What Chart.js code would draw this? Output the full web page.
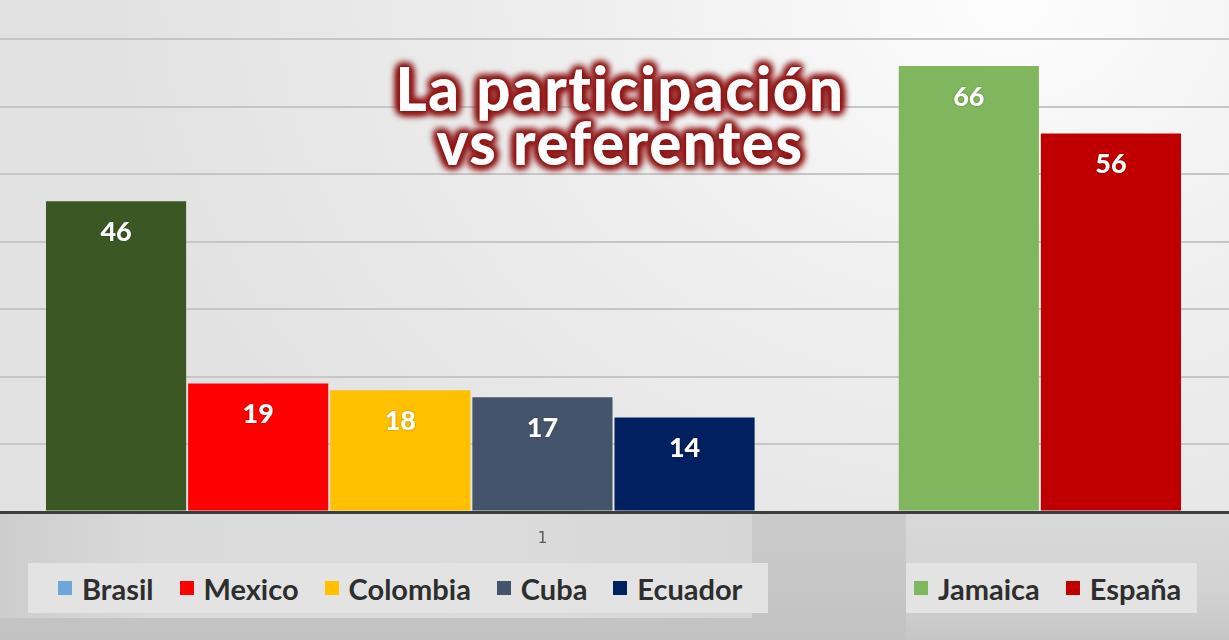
<!DOCTYPE html>
<html>
<head>
<meta charset="utf-8">
<script src="https://cdn.jsdelivr.net/npm/chart.js@4.4.1/dist/chart.umd.min.js"></script>
<style>
  html, body { margin: 0; padding: 0; }
  body { width: 1229px; height: 640px; overflow: hidden; position: relative;
    background: radial-gradient(ellipse 900px 700px at 82% 0%, #fdfdfd 0%, #efefef 45%, #e2e2e2 100%); }
  .band { position: absolute; }
  #wrap { position: absolute; left: 0; top: 0; width: 1229px; height: 640px; }
  #title { position: absolute; left: 0; top: 61px; width: 1240px; text-align: center;
    font-family: Lato, "Open Sans", sans-serif; font-weight: 900; font-size: 60px; line-height: 54px;
    color: #ffffff; letter-spacing: 1.5px;
    text-shadow: 0 0 2px #8a1616, 0 0 3px #8a1616, 0 0 5px #8d1818, 0 0 7px #921b1b, 0 0 9px #9a2020, 0 0 11px #a02525, 2px 2px 9px #861414, -2px -2px 9px #861414, 2px -2px 9px #861414, -2px 2px 9px #861414; }
  .legend { position: absolute; display: flex; align-items: center; background: #e3e3e3;
    font-family: Lato, "Open Sans", sans-serif; font-weight: 700; font-size: 29px; color: #2e2e2e; }
  .legend .item { display: flex; align-items: center; }
  .legend .sw { width: 14px; height: 14px; margin-right: 10px; }
</style>
</head>
<body>
<div class="band" style="left:0;top:514px;width:1229px;height:126px;background:linear-gradient(to bottom,#cbcbcb,#c2c2c2);"></div>
<div class="band" style="left:0;top:514px;width:752px;height:104px;background:linear-gradient(to right,#cdcdcd 0%,#dadada 20%,#dcdcdc 60%,#d6d6d6 100%);"></div>
<div class="band" style="left:906px;top:514px;width:323px;height:126px;background:linear-gradient(to bottom,#d9d9d9 0%,#d2d2d2 60%,#c6c6c6 100%);"></div>
<div id="wrap"><canvas id="c" width="1229" height="640"></canvas></div>
<div id="title">La participación<br>vs referentes</div>
<div class="legend" id="legLeft" style="left:28px;top:563px;width:740px;height:50px;padding-left:30px;box-sizing:border-box;gap:26px;"></div>
<div class="legend" id="legRight" style="left:906px;top:563px;width:291px;height:50px;padding-left:8px;box-sizing:border-box;gap:26px;"></div>
<script>
// ---- data ----
const categories = ['Brasil', 'Mexico', 'Colombia', 'Cuba', 'Ecuador', '', 'Jamaica', 'España'];
const values = [46, 19, 18, 17, 14, null, 66, 56];
const barColors = ['#3b5723', '#ff0000', '#ffc000', '#44546a', '#002060', 'rgba(0,0,0,0)', '#80b65d', '#c00000'];
const xTickLabels = ['', '', '', '1', '', '', '', ''];
const yTicks = [0, 10, 20, 30, 40, 50, 60, 70];
const legendLeftNames = ['Brasil', 'Mexico', 'Colombia', 'Cuba', 'Ecuador'];
const legendLeftColors = ['#6fa6d8', '#ff0000', '#ffc000', '#44546a', '#002060'];
const legendRightNames = ['Jamaica', 'España'];
const legendRightColors = ['#80b65d', '#c00000'];
// --------------

function buildLegend(id, names, colors) {
  const el = document.getElementById(id);
  names.forEach((n, i) => {
    const it = document.createElement('div'); it.className = 'item';
    const sw = document.createElement('span'); sw.className = 'sw'; sw.style.background = colors[i];
    const tx = document.createElement('span'); tx.textContent = n;
    it.appendChild(sw); it.appendChild(tx); el.appendChild(it);
  });
}
buildLegend('legLeft', legendLeftNames, legendLeftColors);
buildLegend('legRight', legendRightNames, legendRightColors);

const gridColor = (ctx) => (ctx.tick && ctx.tick.value === 0) ? '#3d3d3d' : '#c6c6c6';
const gridWidth = (ctx) => (ctx.tick && ctx.tick.value === 0) ? 3 : 2;

const valueLabels = {
  id: 'valueLabels',
  afterDatasetsDraw(chart) {
    const ctx = chart.ctx;
    const meta = chart.getDatasetMeta(0);
    ctx.save();
    ctx.font = '900 27px Lato, "Open Sans", sans-serif';
    ctx.fillStyle = '#ffffff';
    ctx.textAlign = 'center';
    ctx.textBaseline = 'middle';
    ctx.shadowColor = 'rgba(0,0,0,0.35)';
    ctx.shadowBlur = 2;
    meta.data.forEach((bar, i) => {
      const v = values[i];
      if (v === null || v === undefined) return;
      ctx.fillText(String(v), bar.x, bar.y + 31);
    });
    ctx.restore();
  }
};

new Chart(document.getElementById('c'), {
  type: 'bar',
  data: {
    labels: categories,
    datasets: [{
      label: 'Participación',
      data: values,
      backgroundColor: barColors,
      borderWidth: 0,
      barPercentage: 0.986,
      categoryPercentage: 1.0
    }]
  },
  options: {
    responsive: false,
    animation: false,
    devicePixelRatio: 1,
    layout: { padding: { top: 39, left: 0, right: 0, bottom: 0 } },
    plugins: { legend: { display: false }, tooltip: { enabled: false }, title: { display: false } },
    scales: {
      x: {
        type: 'category',
        grid: { display: false },
        border: { display: false },
        ticks: {
          autoSkip: false, maxRotation: 0, padding: 10,
          color: '#595959', font: { family: 'DejaVu Sans', size: 15 },
          callback: (val, idx) => xTickLabels[idx]
        },
        afterFit: (scale) => { scale.height = 128; }
      },
      y: {
        position: 'left',
        min: 0, max: 70,
        afterBuildTicks: (scale) => { scale.ticks = yTicks.map(v => ({ value: v })); },
        ticks: { display: false },
        border: { display: false },
        grid: { color: gridColor, lineWidth: gridWidth, drawTicks: true, tickLength: 45, tickColor: gridColor, tickWidth: gridWidth }
      },
      y2: {
        position: 'right',
        min: 0, max: 70,
        afterBuildTicks: (scale) => { scale.ticks = yTicks.map(v => ({ value: v })); },
        ticks: { display: false },
        border: { display: false },
        grid: { drawOnChartArea: false, color: gridColor, lineWidth: gridWidth, drawTicks: true, tickLength: 47, tickColor: gridColor, tickWidth: gridWidth }
      }
    }
  },
  plugins: [valueLabels]
});
</script>
</body>
</html>
